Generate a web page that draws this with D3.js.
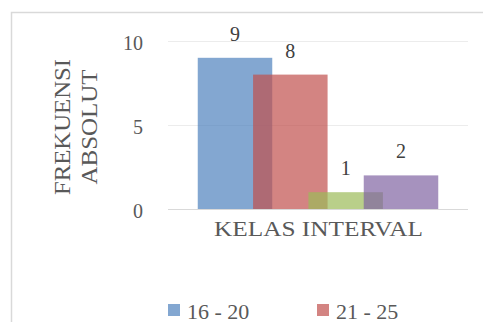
<!DOCTYPE html>
<html>
<head>
<meta charset="utf-8">
<script src="https://cdn.jsdelivr.net/npm/d3@7"></script>
</head>
<body style="margin:0;background:#fff">
<script>
// ---- data ----
const categories = ["KELAS INTERVAL"];
const seriesNames = ["16 - 20", "21 - 25", "26 - 30", "31 - 35"];
const seriesValues = [9, 8, 1, 2];
const seriesColors = ["#4F81BD", "#C0504D", "#9BBB59", "#8064A2"];
const yTicks = [0, 5, 10];
const yTitleLines = ["FREKUENSI", "ABSOLUT"];
const legendShown = ["16 - 20", "21 - 25"];

// ---- layout ----
const W = 483, H = 322;
const plot = { left: 168, right: 468, top: 41, bottom: 209 };
const FONT = "'Liberation Serif'";

const svg = d3.select("body").append("svg")
  .attr("width", W).attr("height", H).style("display", "block");

svg.append("rect").attr("width", W).attr("height", H).attr("fill", "#fff");

// chart border (only left and top visible)
svg.append("rect")
  .attr("x", 11.5).attr("y", 12.5)
  .attr("width", W + 20).attr("height", H + 20)
  .attr("fill", "none").attr("stroke", "#d9d9d9").attr("stroke-width", 1.5);

const y = d3.scaleLinear().domain([0, 10]).range([plot.bottom, plot.top]);
const x0 = d3.scaleBand().domain(categories).range([plot.left, plot.right]).padding(0);
const x1 = d3.scalePoint().domain(seriesNames).range([235, 401]);
const barW = 74.5;

// gridlines
svg.append("g").selectAll("line").data(yTicks).join("line")
  .attr("x1", plot.left).attr("x2", plot.right)
  .attr("y1", d => y(d) + 0.5).attr("y2", d => y(d) + 0.5)
  .attr("stroke", d => d === 0 ? "#d9d9d9" : "#ececec").attr("stroke-width", 1);

// y tick labels (drawn from the axis generator, restyled)
const yAxis = d3.axisLeft(y).tickValues(yTicks).tickSize(0).tickPadding(0);
const gy = svg.append("g").attr("transform", `translate(143,2)`).call(yAxis);
gy.attr("font-family", null).attr("font-size", null);
gy.select(".domain").remove();
gy.selectAll("text")
  .style("font-family", FONT)
  .style("font-size", "20px").attr("fill", "#595959");

// bars
const bars = seriesNames.map((s, i) => ({ name: s, value: seriesValues[i], color: seriesColors[i] }));
const gb = svg.append("g");
gb.selectAll("rect").data(bars).join("rect")
  .attr("x", d => x1(d.name) - barW / 2)
  .attr("y", d => y(d.value))
  .attr("width", barW)
  .attr("height", d => y(0) - y(d.value))
  .attr("fill", d => d.color)
  .attr("fill-opacity", 0.7);

// data labels
gb.selectAll("text").data(bars).join("text")
  .attr("x", d => x1(d.name))
  .attr("y", d => y(d.value) - 17)
  .attr("text-anchor", "middle")
  .style("font-family", FONT)
  .style("font-size", "20px").attr("fill", "#404040")
  .text(d => d.value);

// x category label
svg.append("text")
  .attr("x", x0(categories[0]) + x0.bandwidth() / 2 - 104)
  .attr("y", 236)
  .style("font-family", FONT)
  .style("font-size", "21px").attr("fill", "#595959")
  .attr("textLength", 209).attr("lengthAdjust", "spacingAndGlyphs")
  .text(categories[0]);

// y title
const yt = svg.append("g").attr("transform", "translate(70,127) rotate(-90)");
yt.selectAll("text").data(yTitleLines).join("text")
  .attr("x", 0).attr("y", (d, i) => i * 27)
  .attr("text-anchor", "middle")
  .style("font-family", FONT)
  .style("font-size", "24px").attr("fill", "#595959")
  .attr("textLength", (d, i) => i === 0 ? 136 : 115)
  .attr("lengthAdjust", "spacingAndGlyphs")
  .text(d => d);

// legend
const lg = svg.append("g").selectAll("g").data(legendShown).join("g")
  .attr("transform", (d, i) => `translate(${168 + i * 149},304)`);
lg.append("rect").attr("width", 12).attr("height", 12)
  .attr("fill", d => seriesColors[seriesNames.indexOf(d)]).attr("fill-opacity", 0.7);
lg.append("text").attr("x", 19).attr("y", 14.5)
  .style("font-family", FONT)
  .style("font-size", "22px").attr("fill", "#595959")
  .text(d => d);
</script>
</body>
</html>
